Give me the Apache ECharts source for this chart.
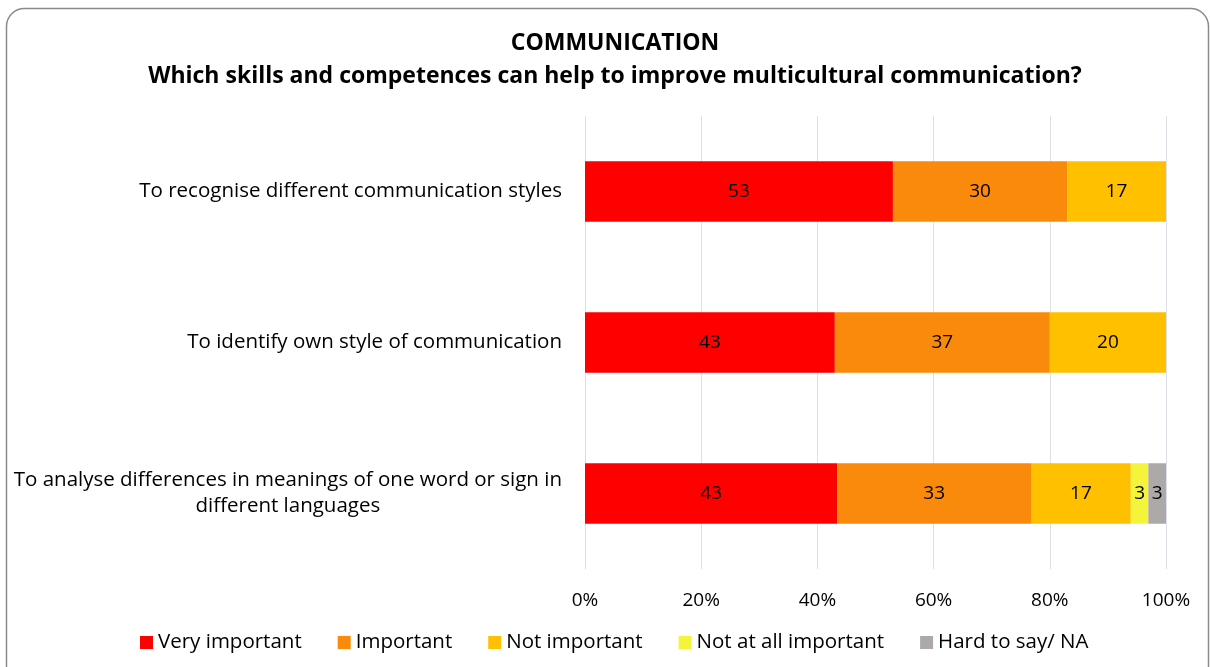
<!DOCTYPE html>
<html>
<head>
<meta charset="utf-8">
<style>
  html, body { margin: 0; padding: 0; background: #ffffff; }
  #chart { width: 1210px; height: 667px; }
</style>
<script src="https://cdn.jsdelivr.net/npm/echarts@6/dist/echarts.min.js"></script>
</head>
<body>
<div id="chart"></div>
<script>
// Survey answers, per statement (top to bottom)
const categories = [
  'To recognise different communication styles',
  'To identify own style of communication',
  'To analyse differences in meanings of one word or sign in\ndifferent languages'
];
const seriesNames = ['Very important', 'Important', 'Not important', 'Not at all important', 'Hard to say/ NA'];
const veryImportant   = [53, 43, 43];
const important       = [30, 37, 33];
const notImportant    = [17, 20, 17];
const notAtAll        = [0, 0, 3];
const hardToSay       = [0, 0, 3];
const tickLabels = ['0%', '20%', '40%', '60%', '80%', '100%'];

const colors = ['#FF0000', '#F98A0B', '#FFC000', '#F4F43A', '#ADA9A9'];
const FONT = '"Open Sans", sans-serif';
const FS_TEXT = 20.5;   // category and legend text
const FS_NUM = 19;      // numbers on bars and axis
const FS_TITLE = 23;

const rows = [veryImportant, important, notImportant, notAtAll, hardToSay];
const totals = categories.map((_, i) => rows.reduce((s, r) => s + r[i], 0));

const chart = echarts.init(document.getElementById('chart'), null, { renderer: 'canvas' });

const series = rows.map((vals, k) => ({
  name: seriesNames[k],
  type: 'bar',
  stack: 'total',
  barCategoryGap: '60%',
  itemStyle: { color: colors[k] },
  label: {
    show: true,
    position: 'inside',
    color: '#000',
    fontFamily: FONT,
    fontSize: FS_NUM,
    formatter: p => (p.data.raw > 0 ? String(p.data.raw) : '')
  },
  // bars are sized as share of each row's total (100% stacked)
  data: vals.map((v, i) => ({ value: v / totals[i] * 100, raw: v })),
  emphasis: { disabled: true }
}));

chart.setOption({
  animation: false,
  title: [{
    text: 'COMMUNICATION',
    left: 610, top: 27, textAlign: 'center',
    textStyle: { fontFamily: FONT, fontSize: FS_TITLE, fontWeight: 'bold', color: '#000' }
  }, {
    text: 'Which skills and competences can help to improve multicultural communication?',
    left: 610, top: 60, textAlign: 'center',
    textStyle: { fontFamily: FONT, fontSize: FS_TITLE, fontWeight: 'bold', color: '#000' }
  }],
  graphic: [{
    type: 'rect',
    shape: { x: 6.5, y: 8.5, width: 1202, height: 700, r: 18 },
    style: { fill: 'none', stroke: '#8a8a8a', lineWidth: 1.5 },
    silent: true, z: -1
  }],
  legend: {
    data: seriesNames,
    bottom: 9,
    left: 135,
    itemWidth: 13, itemHeight: 13, itemGap: 36,
    icon: 'rect',
    textStyle: { fontFamily: FONT, fontSize: FS_TEXT, color: '#000' }
  },
  grid: { left: 585, right: 44, top: 116, bottom: 98, containLabel: false },
  xAxis: {
    type: 'value',
    min: 0, max: 100, interval: 20,
    axisLabel: {
      fontFamily: FONT, fontSize: FS_NUM, color: '#000', margin: 22,
      formatter: v => tickLabels[Math.round(v / 20)]
    },
    axisLine: { show: false },
    axisTick: { show: false },
    splitLine: { lineStyle: { color: '#DCE0E8', width: 1 } }
  },
  yAxis: {
    type: 'category',
    inverse: true,
    data: categories,
    axisLine: { show: true, lineStyle: { color: '#DCE0E8', width: 1 } },
    axisTick: { show: false },
    axisLabel: {
      margin: 23,
      fontFamily: FONT, fontSize: FS_TEXT, color: '#000',
      lineHeight: 26,
      formatter: v => v.split('\n').map(l => '{c|' + l + '}').join('\n'),
      rich: { c: { align: 'center', fontFamily: FONT, fontSize: FS_TEXT, color: '#000', lineHeight: 26 } }
    }
  },
  series: series
});
</script>
</body>
</html>
